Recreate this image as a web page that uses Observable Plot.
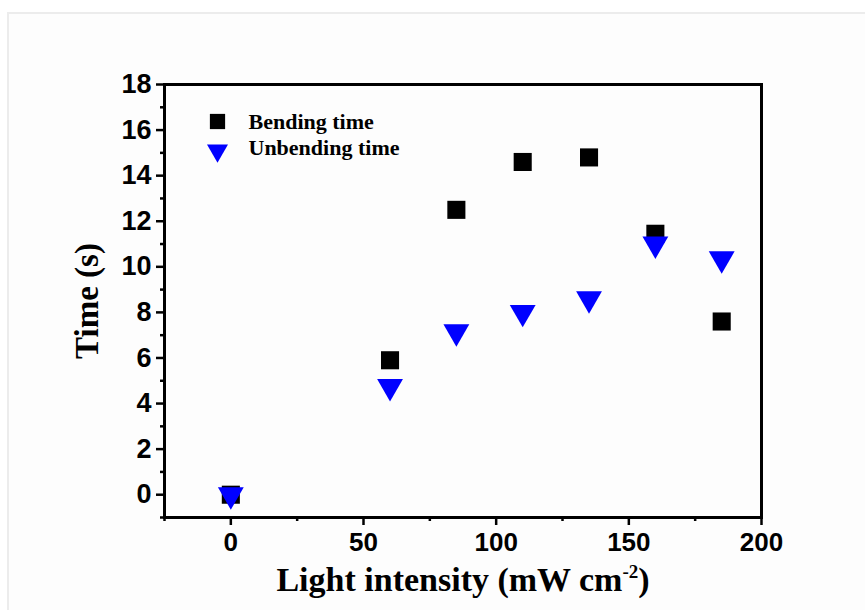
<!DOCTYPE html>
<html>
<head>
<meta charset="utf-8">
<script src="https://cdn.jsdelivr.net/npm/d3@7"></script>
<script src="https://cdn.jsdelivr.net/npm/@observablehq/plot@0.6"></script>
<style>
  html, body { margin: 0; padding: 0; background: #ffffff; }
  #wrap { position: relative; width: 865px; height: 610px; overflow: hidden; }
  #panel { position: absolute; left: 7px; top: 12px; right: 0; bottom: 0;
           border-top: 2px solid #ececec; border-left: 2px solid #ececec; background: #fdfdfd; }
  #chart { position: absolute; left: 0; top: 0; }
  #chart svg { background: transparent !important; }
</style>
</head>
<body>
<div id="wrap"><div id="panel"></div><div id="chart"></div></div>
<script>
// Data
const intensity = [0, 60, 85, 110, 135, 160, 185];
const bendingTime = [0, 5.9, 12.5, 14.6, 14.8, 11.45, 7.6];
const unbendingTime = [0, 4.75, 7.15, 8.0, 8.6, 11.0, 10.35];
const seriesNames = ["Bending time", "Unbending time"];
const xTicks = [0, 50, 100, 150, 200];
const xMinorTicks = [-25, 25, 75, 125, 175];
const yTicks = [0, 2, 4, 6, 8, 10, 12, 14, 16, 18];
const yMinorTicks = [-1, 1, 3, 5, 7, 9, 11, 13, 15, 17];
const xTitleMain = "Light intensity (mW cm";
const xTitleSup = "-2";
const xTitleEnd = ")";
const yTitle = "Time (s)";

const bending = intensity.map((x, i) => ({x, y: bendingTime[i]}));
const unbending = intensity.map((x, i) => ({x, y: unbendingTime[i]}));

const tickFont = "'Liberation Sans', Arial, sans-serif";
const titleFont = "'Liberation Serif', 'Times New Roman', serif";

const plot = Plot.plot({
  width: 865,
  height: 610,
  marginLeft: 164,
  marginRight: 104,
  marginTop: 84,
  marginBottom: 93,
  style: {background: "transparent", color: "black"},
  x: {domain: [-25, 200]},
  y: {domain: [-1, 18]},
  marks: [
    Plot.axisY(yMinorTicks, {tickSize: 4, strokeWidth: 2.5, text: null, label: null}),
    Plot.axisY(yTicks, {tickSize: 8, strokeWidth: 2.5, tickPadding: 5, fontSize: 27, fontWeight: "bold", fontFamily: tickFont, label: null}),
    Plot.axisX(xMinorTicks, {tickSize: 4, strokeWidth: 2.5, text: null, label: null}),
    Plot.axisX(xTicks, {tickSize: 8, strokeWidth: 2.5, tickPadding: 7, fontSize: 26, fontWeight: "bold", fontFamily: tickFont, label: null}),
    Plot.frame({stroke: "black", strokeWidth: 3}),
    Plot.dot(bending, {x: "x", y: "y", symbol: "square", r: 10.2, fill: "black", stroke: "none"}),
    Plot.dot(unbending, {x: "x", y: "y", symbol: "triangle", rotate: 180, r: 9.6, fill: "#0000ff", stroke: "none"}),
    // legend
    Plot.dot([seriesNames[0]], {frameAnchor: "top-left", dx: 53, dy: 37, symbol: "square", r: 8.6, fill: "black", stroke: "none"}),
    Plot.dot([seriesNames[1]], {frameAnchor: "top-left", dx: 53, dy: 66, symbol: "triangle", rotate: 180, r: 7.8, fill: "#0000ff", stroke: "none"}),
    Plot.text([seriesNames[0]], {text: d => d, frameAnchor: "top-left", dx: 84, dy: 37, textAnchor: "start", lineAnchor: "middle", fontSize: 22, fontWeight: "bold", fontFamily: titleFont, fill: "black"}),
    Plot.text([seriesNames[1]], {text: d => d, frameAnchor: "top-left", dx: 84, dy: 63, textAnchor: "start", lineAnchor: "middle", fontSize: 22, fontWeight: "bold", fontFamily: titleFont, fill: "black"}),
    // axis titles
    Plot.text([xTitleMain + xTitleSup + xTitleEnd], {text: d => d, frameAnchor: "bottom", dy: 63, lineAnchor: "middle", textAnchor: "middle", fontSize: 34, fontWeight: "bold", fontFamily: titleFont, fill: "black", className: "xtitle"}),
    Plot.text([yTitle], {text: d => d, frameAnchor: "left", dx: -77, rotate: -90, textAnchor: "middle", lineAnchor: "middle", fontSize: 33, fontWeight: "bold", fontFamily: titleFont, fill: "black"})
  ]
});
document.getElementById("chart").appendChild(plot);

// superscript in the x-axis title
const t = plot.querySelector(".xtitle text");
if (t) {
  t.textContent = "";
  const ns = "http://www.w3.org/2000/svg";
  const a = document.createElementNS(ns, "tspan"); a.textContent = xTitleMain;
  const b = document.createElementNS(ns, "tspan"); b.textContent = xTitleSup;
  b.setAttribute("font-size", "19"); b.setAttribute("dy", "-13");
  const c = document.createElementNS(ns, "tspan"); c.textContent = xTitleEnd;
  c.setAttribute("dy", "13");
  t.append(a, b, c);
}
</script>
</body>
</html>
